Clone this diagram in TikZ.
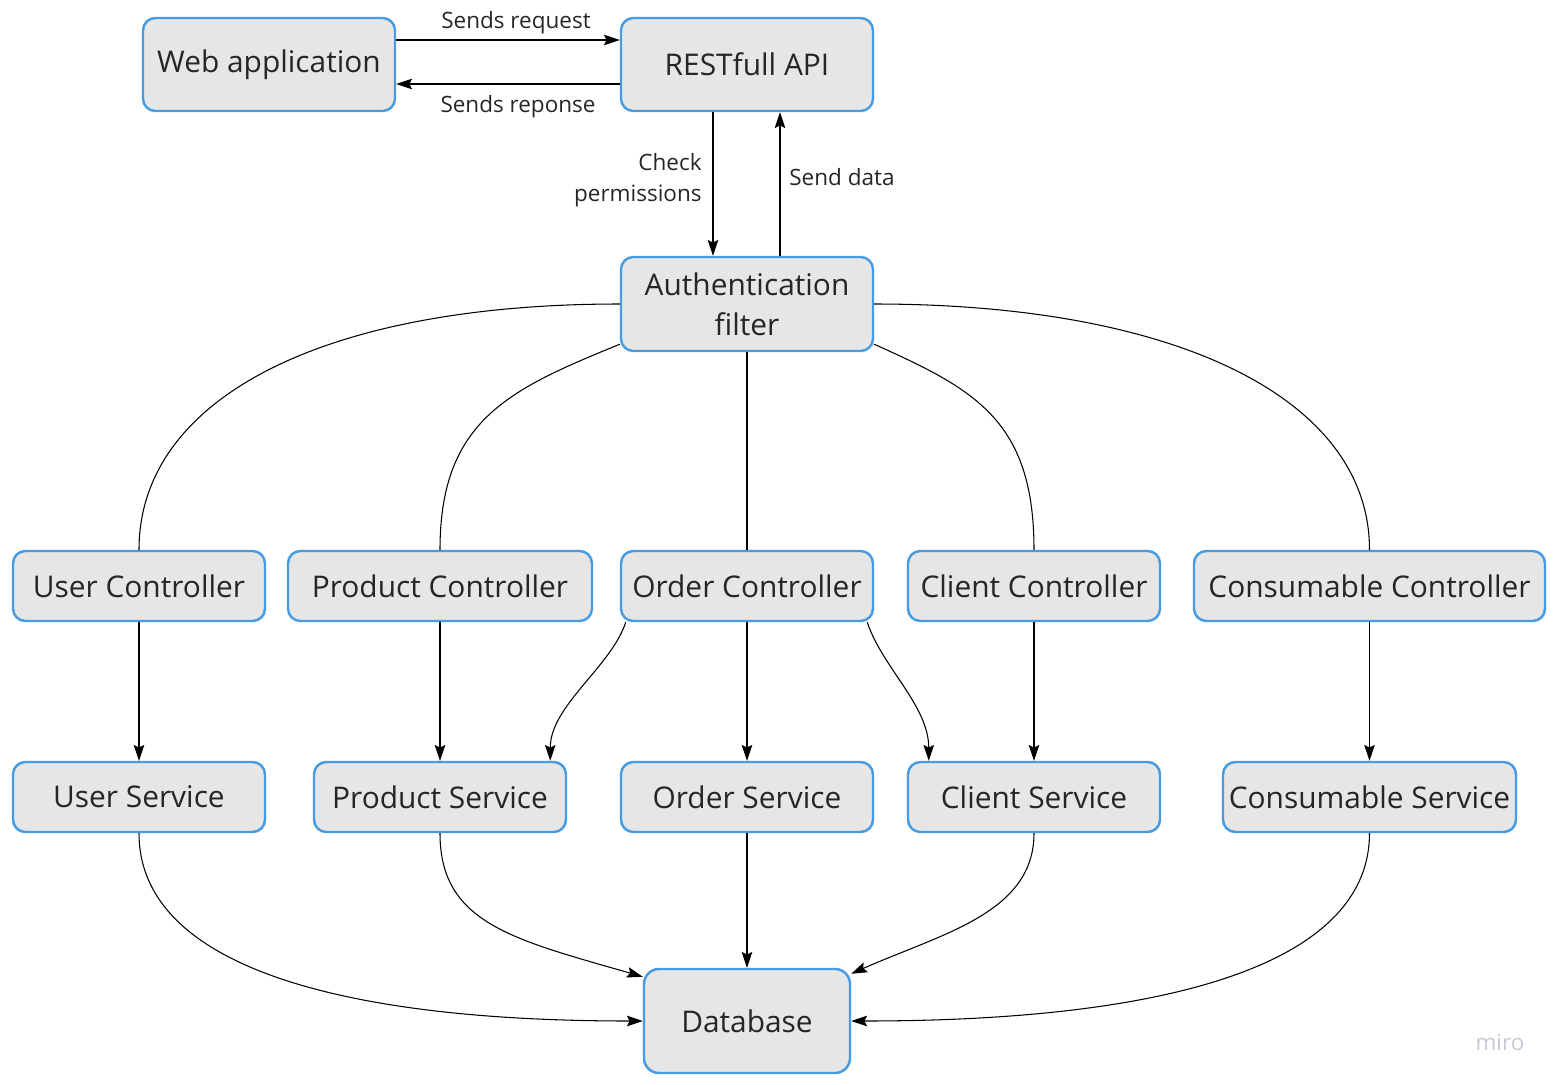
\documentclass[tikz,border=0pt]{standalone}
\usepackage{fontspec}
\setmainfont{Open Sans}
\usetikzlibrary{arrows.meta}
\definecolor{boxfill}{HTML}{E6E6E6}
\definecolor{boxline}{RGB}{70,155,225}
\definecolor{txt}{HTML}{262626}
\definecolor{mark}{RGB}{200,200,212}
\begin{document}
\begin{tikzpicture}[
    box/.style={draw=boxline,fill=boxfill,line width=1.4pt,rounded corners=7pt,minimum width=5.04cm,minimum height=1.4cm,inner sep=0pt,text=txt,font=\fontsize{17}{22.8}\selectfont,align=center},
    lbl/.style={text=txt,font=\fontsize{12.8}{18}\selectfont},
    arr/.style={-{Stealth[length=9pt,width=6pt,inset=1.5pt]},line width=0.6pt},
    link/.style={line width=0.6pt}]
    \useasboundingbox (0,0) rectangle (31.22,-21.7);

    \node[box,minimum height=1.86cm] (web) at (5.38,-1.29) {Web application};
    \node[box,minimum height=1.86cm] (api) at (14.94,-1.29) {RESTfull API};
    \node[box,minimum height=1.88cm] (auth) at (14.94,-6.08) {Authentication\\filter};

    \node[box] (userc) at (2.78,-11.72) {User Controller};
    \node[box,minimum width=6.08cm] (prodc) at (8.8,-11.72) {Product Controller};
    \node[box] (orderc) at (14.94,-11.72) {Order Controller};
    \node[box] (clientc) at (20.68,-11.72) {Client Controller};
    \node[box,minimum width=7.02cm] (consc) at (27.39,-11.72) {Consumable Controller};

    \node[box] (users) at (2.78,-15.94) {User Service};
    \node[box] (prods) at (8.8,-15.94) {Product Service};
    \node[box] (orders) at (14.94,-15.94) {Order Service};
    \node[box] (clients) at (20.68,-15.94) {Client Service};
    \node[box,minimum width=5.86cm] (conss) at (27.39,-15.94) {Consumable Service};

    \node[box,minimum width=4.12cm,minimum height=2.08cm,rounded corners=8.5pt] (db) at (14.94,-20.42) {Database};
    \node[text=mark,font=\fontsize{12.8}{14}\selectfont] (miro) at (30.0,-20.84) {miro};

    \draw[arr] ([yshift=0.49cm]web.east) -- ([yshift=0.49cm]api.west) node[midway,above,lbl,xshift=0.16cm]{Sends request};
    \draw[arr] ([yshift=-0.39cm]api.west) -- ([yshift=-0.39cm]web.east) node[midway,below,lbl,xshift=0.2cm,yshift=-0.1cm]{Sends reponse};
    \draw[arr] ([xshift=-0.68cm]api.south) -- ([xshift=-0.68cm]auth.north) node[midway,left,lbl,align=right,xshift=-0.1cm,yshift=0.08cm]{Check\\permissions};
    \draw[arr] ([xshift=0.66cm]auth.north) -- ([xshift=0.66cm]api.south) node[midway,right,lbl,xshift=0.06cm,yshift=0.14cm]{Send data};

    \draw[link] (auth.west) .. controls +(-6.0,0) and +(0,3.0) .. (userc.north);
    \draw[link] ([yshift=0.16cm]auth.south west) .. controls +(-2.2,-0.9) and +(0,2.6) .. (prodc.north);
    \draw[link] (auth.south) -- (orderc.north);
    \draw[link] ([yshift=0.16cm]auth.south east) .. controls +(2.0,-0.9) and +(0,2.6) .. (clientc.north);
    \draw[link] (auth.east) .. controls +(6.1,0) and +(0,3.0) .. (consc.north);

    \draw[arr] (userc) -- (users);
    \draw[arr] (prodc) -- (prods);
    \draw[arr] (orderc) -- (orders);
    \draw[arr] (clientc) -- (clients);
    \draw[arr] (consc) -- (conss);
    \draw[arr] ([xshift=0.12cm]orderc.south west) .. controls +(-0.3,-0.9) and +(0,1.1) .. ([xshift=-0.34cm]prods.north east);
    \draw[arr] ([xshift=-0.14cm]orderc.south east) .. controls +(0.3,-0.9) and +(0,1.1) .. ([xshift=0.44cm]clients.north west);

    \draw[arr] (users.south) .. controls +(0,-2.5) and +(-6.5,0) .. (db.west);
    \draw[arr] (prods.south) .. controls +(0,-1.8) and +(-2.6,0.75) .. ([yshift=-0.18cm]db.north west);
    \draw[arr] (orders) -- (db);
    \draw[arr] (clients.south) .. controls +(0,-1.6) and +(1.8,0.8) .. ([yshift=-0.12cm]db.north east);
    \draw[arr] (conss.south) .. controls +(0,-2.5) and +(6.7,0) .. (db.east);
\end{tikzpicture}
\end{document}
